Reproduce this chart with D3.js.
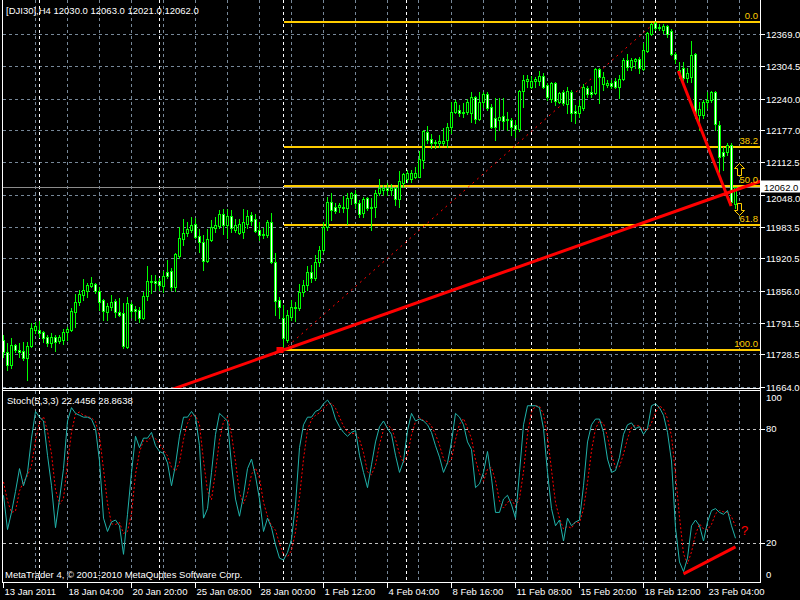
<!DOCTYPE html>
<html><head><meta charset="utf-8">
<script src="https://cdn.jsdelivr.net/npm/d3@7"></script>
<style>body{margin:0;background:#000;}svg{display:block;}</style>
</head><body>
<svg id="c" width="800" height="600"></svg>
<script>
const symbolTitle = "[DJI30],H4 12030.0 12063.0 12021.0 12062.0";
const opens = [11757,11733,11707,11747,11737,11735,11721,11745,11777,11777,
11773,11763,11751,11763,11755,11757,11773,11777,11813,11833,
11847,11855,11865,11869,11855,11837,11813,11823,11835,11813,
11811,11743,11829,11819,11817,11801,11845,11873,11875,11875,
11865,11893,11895,11863,11925,11959,11971,11977,11989,11965,
11953,11915,11957,11981,11985,12009,11987,12005,11977,11971,
11973,11989,12007,11999,11977,11969,11967,11993,11913,11837,
11801,11757,11803,11821,11821,11853,11867,11893,11881,11913,
11937,11983,12033,12023,12023,12023,12021,12041,12049,12031,
12011,12041,12023,12023,12051,12057,12061,12057,12061,12039,
12071,12079,12079,12083,12083,12117,12173,12159,12153,12151,
12151,12157,12183,12213,12217,12213,12213,12211,12243,12199,
12233,12249,12223,12201,12197,12205,12197,12197,12187,12179,
12255,12275,12263,12275,12275,12285,12267,12239,12271,12233,
12253,12229,12253,12215,12211,12221,12261,12253,12251,12299,
12269,12267,12271,12275,12263,12279,12317,12303,12315,12319,
12299,12335,12369,12391,12383,12377,12385,12375,12329,12291,
12301,12281,12283,12329,12207,12207,12233,12237,12253,12187,
12133,12133,12147,12030];
const highs = [11767,11751,11761,11749,11751,11753,11753,11791,11793,11795,
11775,11767,11771,11767,11767,11779,11783,11821,11849,11857,
11879,11871,11883,11871,11863,11839,11831,11847,11839,11841,
11831,11843,11833,11825,11823,11853,11905,11887,11887,11881,
11895,11917,11901,11931,11983,11999,11993,12003,12001,11979,
11967,11979,11997,12003,12017,12019,12019,12017,11999,11999,
12019,12017,12013,12009,11993,11981,11997,12011,11931,11843,
11827,11817,11837,11833,11869,11877,11905,11907,11927,11945,
11993,12043,12051,12031,12031,12045,12051,12053,12057,12037,
12043,12043,12041,12057,12079,12067,12071,12069,12063,12095,
12091,12097,12097,12103,12135,12177,12185,12169,12157,12167,
12181,12191,12233,12237,12227,12231,12239,12253,12245,12253,
12253,12253,12229,12241,12241,12241,12213,12201,12197,12257,
12287,12287,12285,12283,12295,12291,12271,12273,12273,12253,
12257,12263,12257,12227,12237,12269,12265,12265,12301,12301,
12293,12277,12277,12281,12287,12321,12329,12321,12321,12323,
12351,12373,12391,12393,12389,12389,12387,12379,12333,12313,
12313,12301,12355,12331,12233,12237,12253,12255,12255,12195,
12143,12151,12151,12063];
const lows = [11723,11697,11701,11733,11723,11717,11677,11743,11771,11763,
11753,11745,11743,11735,11751,11749,11757,11775,11783,11827,
11837,11843,11863,11851,11817,11797,11797,11817,11803,11805,
11741,11741,11803,11797,11793,11799,11837,11851,11857,11857,
11853,11881,11857,11855,11921,11947,11965,11973,11961,11933,
11897,11913,11955,11973,11981,11969,11961,11973,11973,11969,
11961,11981,11987,11973,11957,11961,11963,11911,11807,11801,
11737,11753,11797,11795,11817,11845,11857,11873,11877,11905,
11933,11977,11997,12011,12013,12013,11989,12029,12021,12003,
12003,12017,11977,12003,12047,12047,12047,12047,12027,12023,
12063,12073,12073,12081,12083,12101,12151,12141,12141,12143,
12147,12143,12171,12211,12205,12203,12209,12193,12191,12197,
12223,12217,12181,12157,12177,12179,12177,12167,12163,12175,
12223,12263,12261,12263,12267,12261,12237,12233,12227,12231,
12227,12211,12195,12191,12203,12217,12243,12243,12249,12231,
12257,12263,12261,12261,12241,12277,12297,12297,12301,12291,
12297,12333,12367,12377,12377,12371,12363,12327,12311,12281,
12277,12273,12273,12201,12177,12201,12221,12233,12177,12093,
12097,12127,12027,12021];
const closes = [11733,11707,11747,11737,11733,11721,11745,11781,11785,11771,
11761,11751,11763,11753,11763,11773,11779,11815,11833,11849,
11857,11867,11871,11855,11833,11815,11825,11833,11813,11807,
11745,11831,11815,11815,11801,11845,11875,11875,11871,11867,
11885,11885,11863,11929,11961,11971,11979,11987,11963,11953,
11915,11959,11983,11987,12009,11987,12005,11981,11987,11989,
11993,12005,11995,11975,11967,11967,11993,11913,11835,11823,
11761,11807,11823,11823,11853,11867,11893,11881,11913,11937,
11983,12033,12017,12015,12027,12021,12041,12051,12031,12009,
12039,12021,12021,12051,12061,12061,12057,12061,12039,12075,
12089,12091,12091,12091,12119,12175,12157,12151,12151,12155,
12155,12183,12213,12233,12211,12211,12233,12243,12199,12233,
12249,12221,12183,12183,12203,12195,12199,12183,12179,12255,
12277,12279,12275,12279,12285,12263,12243,12271,12235,12251,
12231,12255,12211,12211,12225,12263,12249,12249,12299,12283,
12283,12271,12265,12263,12279,12317,12303,12317,12319,12301,
12337,12371,12389,12381,12381,12385,12369,12329,12319,12297,
12281,12291,12327,12207,12219,12233,12237,12253,12189,12123,
12125,12147,12033,12062];
const stochK = [45,27,36,47,59,50,57,75,89,86,
84,66,50,28,43,59,84,91,88,87,
86,86,85,80,63,33,26,31,32,29,
14,35,57,76,70,75,75,78,71,68,
67,62,50,61,76,86,86,89,86,71,
33,38,57,77,88,86,84,61,43,34,
45,59,64,55,43,26,33,28,19,12,
11,15,22,40,70,82,86,86,89,90,
93,95,92,85,81,78,76,78,79,66,
57,49,61,73,81,84,80,77,66,57,
63,79,88,84,85,84,82,78,71,65,
57,62,73,88,86,82,73,69,49,51,
57,68,54,36,36,43,45,40,33,57,
82,92,92,92,91,80,57,38,29,32,
21,33,29,31,32,50,73,82,85,85,
78,64,57,58,65,77,82,83,80,81,
77,80,92,93,91,87,78,63,28,10,
5,12,29,32,29,21,31,37,38,36,
35,37,29,22.4456];
const stochD = [52,42,36,36.7,47.3,52,55.3,60.7,73.7,83.3,
86.3,78.7,66.7,48,40.3,43.3,62,78,87.7,88.7,
87,86.3,85.7,83.7,76,58.7,40.7,30,29.7,30.7,
25,26,35.3,56,67.7,73.7,73.3,76,74.7,72.3,
68.7,65.7,59.7,57.7,62.3,74.3,82.7,87,87,82,
63.3,47.3,42.7,57.3,74,83.7,86,77,62.7,46,
40.7,46,56,59.3,54,41.3,34,29,26.7,19.7,
14,12.7,16,25.7,44,64,79.3,84.7,87,88.3,
90.7,92.7,93.3,90.7,86,81.3,78.3,77.3,77.7,74.3,
67.3,57.3,55.7,61,71.7,79.3,81.7,80.3,74.3,66.7,
62,66.3,76.7,83.7,85.7,84.3,83.7,81.3,77,71.3,
64.3,61.3,64,74.3,82.3,85.3,80.3,74.7,63.7,56.3,
52.3,58.7,59.7,52.7,42,38.3,41.3,42.7,39.3,43.3,
57.3,77,88.7,92,91.7,87.7,76,58.3,41.3,33,
27.3,28.7,27.7,31,30.7,37.7,51.7,68.3,80,84,
82.7,75.7,66.3,59.7,60,66.7,74.7,80.7,81.7,81.3,
79.3,79.3,83,88.3,92,90.3,85.3,76,56.3,33.7,
14.3,9,15.3,24.3,30,27.3,27,29.7,35.3,37,
36.3,36,33.7,28.8638];
const timeLabels = ["13 Jan 2011","18 Jan 04:00","20 Jan 20:00","25 Jan 08:00","28 Jan 00:00","1 Feb 12:00","4 Feb 04:00","8 Feb 16:00","11 Feb 08:00","15 Feb 20:00","18 Feb 12:00","23 Feb 04:00"];
const timeLabelBars = [0,16,32,48,64,80,96,112,128,144,160,176];
const priceTicks = [12369.0,12304.5,12240.0,12177.0,12112.5,12048.0,11983.5,11920.5,11856.0,11791.5,11728.5,11664.0];
const stochLevels = [80,20];
const stochTickLabels = ["100","80","20","0"];
const stochTickValues = [100,80,20,0];
const separatorBars = [9,39,70,101,132,163];
const fibLevels = [0,38.2,50,61.8,100];
const fibLabels = ["0.0","38.2","50.0","61.8","100.0"];
const fibAnchorBars = [70,163];
const fibAnchorPrices = [11737,12393];
const trend1Bars = [70,182];
const trend1Prices = [11737,12054];
const trend2Bars = [168.7,181.9];
const trend2Prices = [12295,12025];
const stochTrendBars = [170,183];
const stochTrendValues = [3.7,17.9];
const arrowBars = [183.9,183.9];
const arrowPrices = [12111,12007];
const arrowDirs = ["up","down"];
const bidPrice = 12062.0;
const stochTitle = "Stoch(5,3,3) 22.4456 28.8638";
const copyright = "MetaTrader 4, \u00a9 2001-2010 MetaQuotes Software Corp.";

const W = 800, H = 600;
const FONT = "'Liberation Sans', Arial, sans-serif";
const FS = 9.5;
const LEFT = 2.5, RIGHT = 760.5, MAIN_BOTTOM = 388.5, ST_TOP = 390.5, ST_BOTTOM = 582.5;
const GRID = "#778899";
const svg = d3.select("#c");
svg.append("rect").attr("width", W).attr("height", H).attr("fill", "#000");

const x = d3.scaleLinear().domain([0, 183]).range([3.5, 735.5]);
const y = d3.scaleLinear().domain([11664, 12369]).range([386.5, 34]);
const ys = d3.scaleLinear().domain([0, 100]).range([581, 390.5]);

const defs = svg.append("defs");
defs.append("clipPath").attr("id", "clipMain").append("rect")
  .attr("x", LEFT).attr("y", 0).attr("width", RIGHT - LEFT).attr("height", MAIN_BOTTOM);
defs.append("clipPath").attr("id", "clipSt").append("rect")
  .attr("x", LEFT).attr("y", ST_TOP).attr("width", RIGHT - LEFT).attr("height", ST_BOTTOM - ST_TOP);

// vertical grid
const gridBars = d3.range(8, 186, 8);
const g = svg.append("g").attr("shape-rendering", "crispEdges");
gridBars.forEach(b => {
  const gx = Math.round(x(b)) + 0.5 - 1;
  g.append("line").attr("x1", gx).attr("x2", gx).attr("y1", 0).attr("y2", MAIN_BOTTOM)
    .attr("stroke", GRID).attr("stroke-dasharray", "3,3");
  g.append("line").attr("x1", gx).attr("x2", gx).attr("y1", ST_TOP).attr("y2", ST_BOTTOM)
    .attr("stroke", GRID).attr("stroke-dasharray", "3,3");
});
// horizontal grid main
priceTicks.forEach(p => {
  const gy = Math.round(y(p)) + 0.5;
  g.append("line").attr("x1", LEFT).attr("x2", RIGHT).attr("y1", gy).attr("y2", gy)
    .attr("stroke", GRID).attr("stroke-dasharray", "3,3");
});
stochLevels.forEach(v => {
  const gy = Math.round(ys(v)) + 0.5;
  g.append("line").attr("x1", LEFT).attr("x2", RIGHT).attr("y1", gy).attr("y2", gy)
    .attr("stroke", "#c0c0c0").attr("stroke-dasharray", "3,3");
});
// separators
separatorBars.forEach(b => {
  const gx = Math.round(x(b)) + 0.5 - 1;
  g.append("line").attr("x1", gx).attr("x2", gx).attr("y1", 0).attr("y2", MAIN_BOTTOM)
    .attr("stroke", "#fff").attr("stroke-dasharray", "3,3");
  g.append("line").attr("x1", gx).attr("x2", gx).attr("y1", ST_TOP).attr("y2", ST_BOTTOM)
    .attr("stroke", "#fff").attr("stroke-dasharray", "3,3");
});

// bid line
const bidY = Math.round(y(bidPrice)) + 0.5;
g.append("line").attr("x1", LEFT).attr("x2", RIGHT).attr("y1", bidY).attr("y2", bidY).attr("stroke", "#8c8c8c");

// Fibonacci
const main = svg.append("g").attr("clip-path", "url(#clipMain)");
const fibX0 = x(fibAnchorBars[0]);
const fibRange = fibAnchorPrices[1] - fibAnchorPrices[0];
fibLevels.forEach((lv, i) => {
  const p = fibAnchorPrices[1] - fibRange * lv / 100;
  const fy = Math.round(y(p));
  main.append("line").attr("x1", fibX0).attr("x2", RIGHT).attr("y1", fy).attr("y2", fy)
    .attr("stroke", "#FFCC00").attr("stroke-width", 2).attr("shape-rendering", "crispEdges");
  svg.append("text").attr("x", 758).attr("y", fy - 3).attr("text-anchor", "end")
    .attr("fill", "#FFCC00").attr("font-family", FONT).attr("font-size", FS).text(fibLabels[i]);
});
main.append("line")
  .attr("x1", x(fibAnchorBars[0])).attr("y1", y(fibAnchorPrices[0]))
  .attr("x2", x(fibAnchorBars[1])).attr("y2", y(fibAnchorPrices[1]))
  .attr("stroke", "#ff0000").attr("stroke-dasharray", "2,4");

// candles
const cg = main.append("g").attr("shape-rendering", "crispEdges");
opens.forEach((o, i) => {
  const c = closes[i], h = highs[i], l = lows[i];
  const cx = x(i);
  cg.append("line").attr("x1", cx).attr("x2", cx).attr("y1", Math.round(y(h))).attr("y2", Math.round(y(l)) + 1)
    .attr("stroke", "#00ff00");
  const top = Math.round(y(Math.max(o, c))), bot = Math.round(y(Math.min(o, c)));
  cg.append("rect").attr("x", cx - 1).attr("y", top + 0.5).attr("width", 2).attr("height", Math.max(bot - top, 0.01))
    .attr("fill", c < o ? "#ffffff" : "#000000").attr("stroke", "#00ff00");
});

// trendline 1 (ray both ways)
const slope1 = (trend1Prices[1] - trend1Prices[0]) / (trend1Bars[1] - trend1Bars[0]);
const pAt = b => trend1Prices[0] + slope1 * (b - trend1Bars[0]);
const bLeft = trend1Bars[0] + (y.invert(MAIN_BOTTOM + 2) - trend1Prices[0]) / slope1;
const bRight = x.invert(RIGHT);
main.append("line").attr("x1", x(bLeft)).attr("y1", y(pAt(bLeft))).attr("x2", x(bRight)).attr("y2", y(pAt(bRight)))
  .attr("stroke", "#ff0000").attr("stroke-width", 3);
main.append("rect").attr("x", x(trend1Bars[0]) - 7).attr("y", y(trend1Prices[0]) - 3).attr("width", 7).attr("height", 6).attr("fill", "#ff0000");
// trendline 2
main.append("line").attr("x1", x(trend2Bars[0])).attr("y1", y(trend2Prices[0]))
  .attr("x2", x(trend2Bars[1])).attr("y2", y(trend2Prices[1]))
  .attr("stroke", "#ff0000").attr("stroke-width", 3);

// arrows
arrowBars.forEach((b, i) => {
  const ax = Math.round(x(b)) + 0.5, ay = Math.round(y(arrowPrices[i])) + 0.5;
  const s = arrowDirs[i] === "up" ? 1 : -1;
  const pts = [[0,0],[5,5],[2,5],[2,12],[-2,12],[-2,5],[-5,5]].map(p => [ax + p[0], ay + s * p[1]]);
  svg.append("path").attr("d", "M" + pts.map(p => p.join(",")).join("L") + "Z")
    .attr("fill", "#000").attr("stroke", "#FFCC00").attr("stroke-width", 1);
});

// stochastic
const st = svg.append("g").attr("clip-path", "url(#clipSt)");
const lineK = d3.line().x((d, i) => x(i)).y(d => ys(d));
st.append("path").attr("d", lineK(stochD)).attr("fill", "none").attr("stroke", "#ff0000").attr("stroke-dasharray", "2,2");
st.append("path").attr("d", lineK(stochK)).attr("fill", "none").attr("stroke", "#20B2AA");
st.append("line").attr("x1", x(stochTrendBars[0])).attr("y1", ys(stochTrendValues[0]))
  .attr("x2", x(stochTrendBars[1])).attr("y2", ys(stochTrendValues[1]))
  .attr("stroke", "#ff0000").attr("stroke-width", 3);
svg.append("text").attr("x", x(184.4)).attr("y", ys(24)).attr("fill", "#ff0000")
  .attr("font-family", FONT).attr("font-size", 13).text("?");

// borders
const bg = svg.append("g").attr("stroke", "#fff").attr("shape-rendering", "crispEdges");
bg.append("line").attr("x1", LEFT).attr("x2", LEFT).attr("y1", 0).attr("y2", ST_BOTTOM);
bg.append("line").attr("x1", RIGHT).attr("x2", RIGHT).attr("y1", 0).attr("y2", ST_BOTTOM);
bg.append("line").attr("x1", LEFT).attr("x2", RIGHT).attr("y1", MAIN_BOTTOM).attr("y2", MAIN_BOTTOM);
bg.append("line").attr("x1", LEFT).attr("x2", RIGHT).attr("y1", ST_TOP).attr("y2", ST_TOP);
bg.append("line").attr("x1", LEFT).attr("x2", RIGHT).attr("y1", ST_BOTTOM).attr("y2", ST_BOTTOM);

// price axis
priceTicks.forEach(p => {
  const ty = Math.round(y(p)) + 0.5;
  bg.append("line").attr("x1", RIGHT).attr("x2", RIGHT + 4).attr("y1", ty).attr("y2", ty);
  const near = Math.abs(p - bidPrice) < 20;
  svg.append("text").attr("x", 766).attr("y", ty + (near ? 6 : 3.5)).attr("fill", "#fff")
    .attr("font-family", FONT).attr("font-size", FS).text(p.toFixed(1));
});
// bid label
svg.append("rect").attr("x", 761).attr("y", bidY - 7).attr("width", 39).attr("height", 12).attr("fill", "#fff");
svg.append("text").attr("x", 764).attr("y", bidY + 3).attr("fill", "#000")
  .attr("font-family", FONT).attr("font-size", FS).text(bidPrice.toFixed(1));

// stoch axis
stochTickValues.forEach((v, i) => {
  let ty = ys(v) + 3.5;
  if (v === 100) ty = ys(v) + 10;
  if (v === 0) ty = ys(v) - 3;
  svg.append("text").attr("x", 766).attr("y", ty).attr("fill", "#fff")
    .attr("font-family", FONT).attr("font-size", FS).text(stochTickLabels[i]);
  if (v === 80 || v === 20) {
    const ly = Math.round(ys(v)) + 0.5;
    bg.append("line").attr("x1", RIGHT).attr("x2", RIGHT + 4).attr("y1", ly).attr("y2", ly);
  }
});

// time axis
timeLabelBars.forEach((b, i) => {
  const tx = Math.round(x(b)) - 0.5;
  bg.append("line").attr("x1", tx).attr("x2", tx).attr("y1", ST_BOTTOM).attr("y2", ST_BOTTOM + 5);
  svg.append("text").attr("x", tx + 1).attr("y", 595).attr("fill", "#fff")
    .attr("font-family", FONT).attr("font-size", FS).text(timeLabels[i]);
});

// titles
svg.append("text").attr("x", 6).attr("y", 14).attr("fill", "#fff").attr("font-family", FONT)
  .attr("font-size", FS).text(symbolTitle);
svg.append("text").attr("x", 7).attr("y", 404).attr("fill", "#fff").attr("font-family", FONT)
  .attr("font-size", FS).text(stochTitle);
svg.append("text").attr("x", 5).attr("y", 578).attr("fill", "#fff").attr("font-family", FONT)
  .attr("font-size", FS).text(copyright);
</script>
</body></html>
